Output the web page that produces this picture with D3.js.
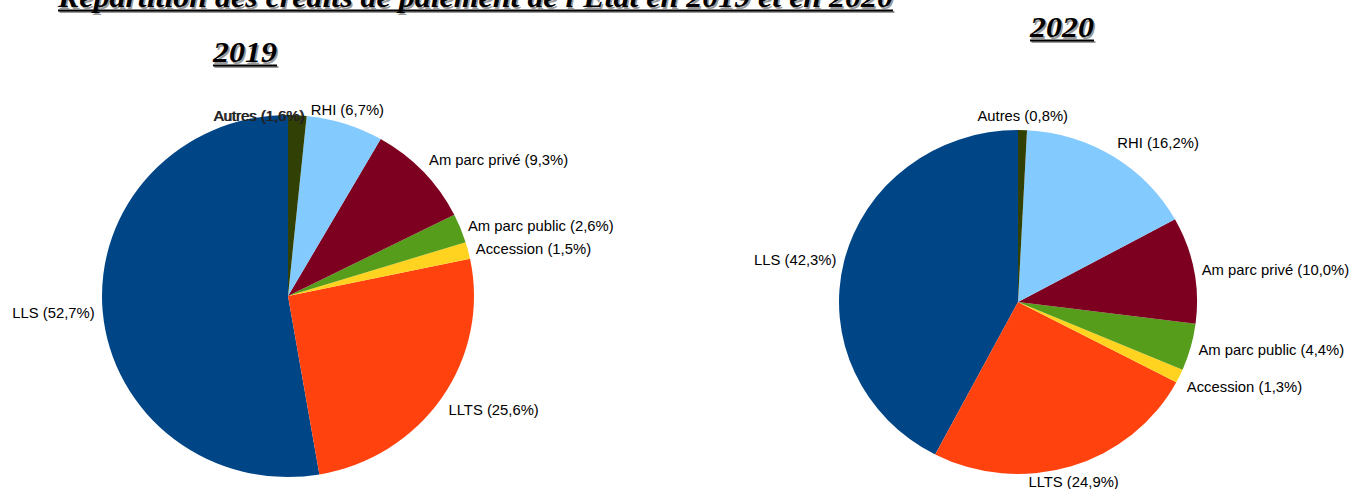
<!DOCTYPE html>
<html>
<head>
<meta charset="utf-8">
<script src="https://cdn.jsdelivr.net/npm/d3@7"></script>
<style>
  html, body { margin: 0; padding: 0; background: #fff; }
  svg { display: block; }
</style>
</head>
<body>
<svg id="chart" width="1360" height="489"></svg>
<script>
// Répartition des crédits de paiement de l'Etat, par ligne budgétaire
const categories = ["LLS", "LLTS", "Accession", "Am parc public", "Am parc privé", "RHI", "Autres"];
const sliceColors = ["#004586", "#ff420e", "#ffd320", "#579d1c", "#7e0021", "#83caff", "#314004"];
const values2019 = [52.7, 25.6, 1.5, 2.6, 9.3, 6.7, 1.6];
const values2020 = [42.3, 24.9, 1.3, 4.4, 10.0, 16.2, 0.8];
const years = ["2019", "2020"];
const mainTitle = "Répartition des crédits de paiement de l'Etat en 2019 et en 2020";

const svg = d3.select("#chart");
svg.append("rect").attr("width", 1360).attr("height", 489).attr("fill", "#fff");

// Underlined bold-italic serif heading with a soft grey shadow
function heading(text, x, y, size, width) {
  const g = svg.append("g");
  [["#9a9a9a", 1.5], ["#000", 0]].forEach(([fill, off]) => {
    const t = g.append("text")
      .attr("x", x + off).attr("y", y + off)
      .attr("font-family", "'Liberation Serif', 'Times New Roman', serif")
      .attr("font-weight", "bold").attr("font-style", "italic")
      .attr("font-size", size).attr("fill", fill)
      .text(text);
    if (width) t.attr("textLength", width).attr("lengthAdjust", "spacingAndGlyphs");
    const w = width || t.node().getComputedTextLength();
    g.append("rect").attr("x", x + off).attr("y", y + 2.5 + off)
      .attr("width", w).attr("height", 2).attr("fill", fill);
  });
}

heading(mainTitle, 58, 7, 30, 835);

const pies = [
  { year: years[0], values: values2019, cx: 288, cy: 296, rx: 186, ry: 181, title: { x: 213, y: 62 } },
  { year: years[1], values: values2020, cx: 1018, cy: 302, rx: 179, ry: 172, title: { x: 1030, y: 37 } }
];

// Manual nudge where two small slices' labels would collide
const labelNudge = { "2019|Autres": [-39, 15] };

const pieLayout = d3.pie().sort(null).value(d => d.value)
  .startAngle(0).endAngle(-2 * Math.PI);

pies.forEach(p => {
  heading(p.year, p.title.x, p.title.y, 30, 64);

  const data = categories.map((c, i) => ({ name: c, value: p.values[i], color: sliceColors[i] }));
  const arcs = pieLayout(data);
  const arc = d3.arc().innerRadius(0).outerRadius(p.rx);

  svg.append("g")
    .attr("transform", `translate(${p.cx},${p.cy}) scale(1,${p.ry / p.rx})`)
    .selectAll("path").data(arcs).join("path")
    .attr("d", arc)
    .attr("fill", d => d.data.color);

  const fmt = v => v.toFixed(1).replace(".", ",");
  arcs.forEach(d => {
    let a = (d.startAngle + d.endAngle) / 2;
    a = ((a % (2 * Math.PI)) + 2 * Math.PI) % (2 * Math.PI);
    const sector = Math.round(a / (Math.PI / 4)) % 8;
    let px = p.cx + Math.sin(a) * (p.rx + 8);
    let py = p.cy - Math.cos(a) * (p.ry + 8);
    const nudge = labelNudge[p.year + "|" + d.data.name];
    if (nudge) { px += nudge[0]; py += nudge[1]; }

    const anchor = (sector === 0 || sector === 4) ? "middle" : (sector < 4 ? "start" : "end");
    let dy;
    if (sector === 2 || sector === 6) dy = 6;
    else if (sector === 0 || sector === 1 || sector === 7) dy = -1;
    else dy = 13;

    const label = `${d.data.name} (${fmt(d.data.value)}%)`;
    const copies = nudge ? [0.8, 0] : [0];
    copies.forEach(off => {
      svg.append("text")
        .attr("transform", `translate(${px + off},${py + dy}) scale(1.06,1)`)
        .attr("text-anchor", anchor)
        .attr("font-family", "'Liberation Sans', Arial, sans-serif")
        .attr("font-size", 14)
        .attr("fill", nudge ? "#222" : "#000")
        .text(label);
    });
  });
});
</script>
</body>
</html>
